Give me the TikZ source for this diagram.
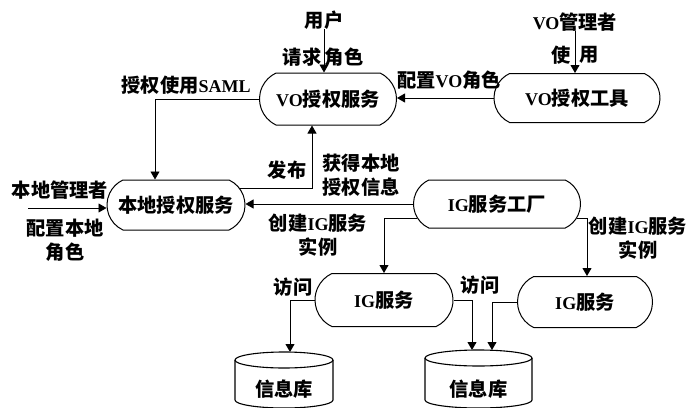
\documentclass[tikz,border=0pt]{standalone}
\usepackage{fontspec}
\setmainfont{Liberation Serif}
\newfontfamily\cjkfont{Noto Sans CJK SC}[Scale=1.07]
\newcommand\zh[1]{{\cjkfont #1}}
\usetikzlibrary{shapes.misc,arrows.meta}
\tikzset{
  every node/.style={font=\bfseries\fontsize{18}{24}\selectfont, inner sep=0pt},
  proc/.style={draw, rounded rectangle, rounded rectangle arc length=130, line width=1pt},
  lbl/.style={align=center},
  arr/.style={-{Triangle[length=8pt,width=9pt]}, line width=0.8pt},
  cylline/.style={line width=1.1pt}
}
\begin{document}
\begin{tikzpicture}[x=1pt,y=-1pt]
\useasboundingbox (0,0) rectangle (700,407);
% process nodes
\node[proc, minimum width=137pt, minimum height=52pt] (vos) at (328,99) {VO\zh{授权服务}};
\node[proc, minimum width=166pt, minimum height=49pt] (vot) at (577,98) {VO\zh{授权工具}};
\node[proc, minimum width=138pt, minimum height=50pt] (loc) at (176,205) {\zh{本地授权服务}};
\node[proc, minimum width=167pt, minimum height=48pt] (igf) at (497,204) {IG\zh{服务工厂}};
\node[proc, minimum width=138pt, minimum height=53pt] (ig1) at (384,300) {IG\zh{服务}};
\node[proc, minimum width=135pt, minimum height=51pt] (ig2) at (585,302) {IG\zh{服务}};
% databases
\draw[cylline] (284,360) ellipse [x radius=49pt, y radius=8pt];
\draw[cylline] (235,360) -- (235,400) arc[start angle=180, end angle=360, x radius=49pt, y radius=8pt] -- (333,360);
\node (db1) at (284,389) {\zh{信息库}};
\draw[cylline] (478.5,358) ellipse [x radius=53.5pt, y radius=8pt];
\draw[cylline] (425,358) -- (425,400) arc[start angle=180, end angle=360, x radius=53.5pt, y radius=8pt] -- (532,358);
\node (db2) at (478.5,389) {\zh{信息库}};
\coordinate (d1a) at (290,352);
\coordinate (d2a) at (472,350);
\coordinate (d2b) at (492,350);
% actors
\node (user) at (324,20) {\zh{用户}};
\node (vom) at (575,22) {VO\zh{管理者}};
\node (lm) at (60,190) {\zh{本地管理者}};
\coordinate (lms) at (28,208);
% connectors
\draw[arr] (user.south) -- (user.south |- vos.north);
\draw[arr] (vom.south) -- (vom.south |- vot.north);
\draw[arr] (vot.west) -- (vot.west -| vos.east);
\draw[arr] (vos.west) -| ([xshift=-21pt]loc.north);
\draw[arr] (loc.15) -| ([xshift=-16pt]vos.south);
\draw[arr] (igf.west) -- (igf.west -| loc.east);
\draw[arr] (lms) -- (lms -| loc.west);
\draw[arr] (igf.190) -| (ig1.north);
\draw[arr] (igf.-10) -| ([xshift=2pt]ig2.north);
\draw[arr] (ig1.west) -| (d1a);
\draw[arr] (ig1.east) -| (d2a);
\draw[arr] (ig2.west) -| (d2b);
% labels
\node (l1) at (302,57) {\zh{请求}};
\node (l2) at (344,57) {\zh{角色}};
\node (l3) at (561,55) {\zh{使}};
\node (l4) at (589,55) {\zh{用}};
\node (l5) at (449,80) {\zh{配置}VO\zh{角色}};
\node (l6) at (186,85) {\zh{授权使用}SAML};
\node (l7) at (287,170) {\zh{发布}};
\node[lbl] (l8) at (361,175) {\zh{获得本地}\\\zh{授权信息}};
\node[lbl] (l9) at (65,240) {\zh{配置本地}\\\zh{角色}};
\node[lbl] (l10) at (318,235) {\zh{创建}IG\zh{服务}\\\zh{实例}};
\node[lbl] (l11) at (638,238) {\zh{创建}IG\zh{服务}\\\zh{实例}};
\node (l12) at (293,287) {\zh{访问}};
\node (l13) at (480,285) {\zh{访问}};
\end{tikzpicture}
\end{document}
